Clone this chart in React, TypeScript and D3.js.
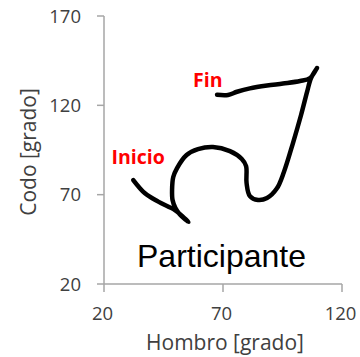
import React from "react";
import * as d3 from "d3";

// Shoulder / elbow angle trajectory of one participant (degrees)
const hombro = [
  32.3, 37.2, 42.8, 49.8, 52.8, 55.5, 51.9, 50.0, 48.8, 48.6, 49.1, 50.7, 54.7,
  59.5, 65.8, 72.9, 77.9, 79.7, 79.9, 81.3, 84.7, 88.5, 92.6, 95.6, 99.4, 102.8,
  105.3, 107.0, 109.5, 106.6, 102.4, 95.2, 88.5, 81.3, 75.9, 72.1, 67.5,
];
const codo = [
  78.2, 70.8, 66.1, 61.4, 58.1, 54.7, 58.9, 62.5, 67.0, 72.6, 79.9, 84.9, 92.2,
  95.5, 96.7, 94.4, 90.0, 86.0, 76.5, 69.2, 67.0, 68.1, 73.4, 82.7, 98.9, 114.6,
  127.4, 135.3, 140.9, 135.3, 133.6, 132.2, 131.1, 129.5, 127.6, 125.8, 125.9,
];

const xTicks = [20, 70, 120];
const yTicks = [20, 70, 120, 170];
const xTitle = "Hombro [grado]";
const yTitle = "Codo [grado]";
const startLabel = "Inicio";
const endLabel = "Fin";
const panelLabel = "Participante";

const W = 360;
const H = 357;
const left = 104;
const right = 342;
const top = 16;
const bottom = 284;

const axisColor = "#a6a6a6";
const tickText = "#404040";
const font = "'Open Sans', sans-serif";

export default function App() {
  const x = d3.scaleLinear().domain([20, 120]).range([left, right]);
  const y = d3.scaleLinear().domain([20, 170]).range([bottom, top]);

  const pts: [number, number][] = hombro.map((h, i) => [h, codo[i]]);
  const line = d3
    .line<[number, number]>()
    .x((d) => x(d[0]))
    .y((d) => y(d[1]))
    .curve(d3.curveCatmullRom.alpha(0.5));

  return (
    <svg
      width={W}
      height={H}
      style={{ position: "absolute", left: 0, top: 0, background: "#fff" }}
    >
      {/* y axis */}
      <line x1={left} x2={left} y1={top} y2={bottom} stroke={axisColor} strokeWidth={1.5} />
      {yTicks.map((t) => (
        <g key={"y" + t}>
          <line x1={left - 7} x2={left} y1={y(t)} y2={y(t)} stroke={axisColor} strokeWidth={1.5} />
          <text
            x={81}
            y={y(t)}
            dy="0.36em"
            textAnchor="end"
            fontFamily={font}
            fontSize={18.5}
            fill={tickText}
          >
            {t}
          </text>
        </g>
      ))}
      {/* x axis */}
      <line x1={left} x2={right} y1={bottom} y2={bottom} stroke={axisColor} strokeWidth={1.5} />
      {xTicks.map((t) => (
        <g key={"x" + t}>
          <line x1={x(t)} x2={x(t)} y1={bottom} y2={bottom + 8} stroke={axisColor} strokeWidth={1.5} />
          <text
            x={x(t) - 1.5}
            y={320}
            textAnchor="middle"
            fontFamily={font}
            fontSize={18.5}
            fill={tickText}
          >
            {t}
          </text>
        </g>
      ))}
      <text
        x={(left + right) / 2 + 2}
        y={350}
        textAnchor="middle"
        fontFamily={font}
        fontSize={21}
        fill={tickText}
      >
        {xTitle}
      </text>
      <text
        transform={`translate(36, ${(top + bottom) / 2 + 2}) rotate(-90)`}
        textAnchor="middle"
        fontFamily={font}
        fontSize={21}
        fill={tickText}
      >
        {yTitle}
      </text>

      {/* trajectory */}
      <path
        d={line(pts) ?? ""}
        fill="none"
        stroke="#000"
        strokeWidth={4.5}
        strokeLinecap="round"
        strokeLinejoin="round"
      />

      <text x={111.5} y={164} fontFamily={font} fontWeight="bold" fontSize={19.5} fill="#ff0000">
        {startLabel}
      </text>
      <text x={193} y={86.5} fontFamily={font} fontWeight="bold" fontSize={19.5} fill="#ff0000">
        {endLabel}
      </text>
      <text
        x={137}
        y={267}
        fontFamily="'Liberation Sans', Arial, sans-serif"
        fontSize={32}
        fill="#000"
      >
        {panelLabel}
      </text>
    </svg>
  );
}
